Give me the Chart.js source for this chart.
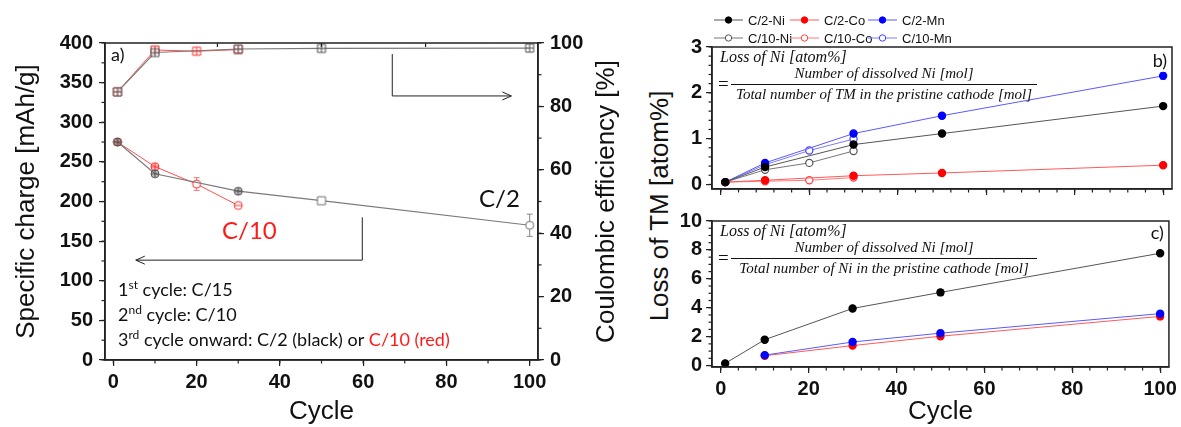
<!DOCTYPE html>
<html>
<head>
<meta charset="utf-8">
<script src="https://cdn.jsdelivr.net/npm/chart.js@4.4.0/dist/chart.umd.min.js"></script>
<style>
    html, body { margin: 0; padding: 0; background: #fff; }
    #wrap { position: relative; width: 1181px; height: 427px; overflow: hidden; }
    canvas { position: absolute; }
    #chartA { left: 0; top: 0; }
    #chartB { left: 680px; top: 0; }
    #chartC { left: 680px; top: 205px; }
    #tmTitle {
        position: absolute; left: 659px; top: 206px;
        font: 26px "Liberation Sans", Arial, sans-serif; line-height: 30px;
        color: #111; white-space: nowrap;
        transform: translate(-50%, -50%) rotate(-90deg);
    }
</style>
</head>
<body>
<div id="wrap">
    <canvas id="chartA" width="640" height="427"></canvas>
    <canvas id="chartB" width="501" height="205"></canvas>
    <canvas id="chartC" width="501" height="222"></canvas>
    <div id="tmTitle">Loss of TM [atom%]</div>
</div>
<script>
// ---- panel a: specific charge / coulombic efficiency ----
const cyclesC2 = [1, 10, 30, 50, 100];
const cyclesC10 = [1, 10, 20, 30];
const chargeC2 = [275, 235, 213, 201, 170];
const chargeC2Err = [0, 0, 0, 0, 14];
const chargeC10 = [275, 244, 222, 195];
const chargeC10Err = [0, 0, 8, 0];
const ceC2 = [84.6, 97.0, 98.1, 98.3, 98.4];
const ceC10 = [84.6, 97.8, 97.4, 97.9];
const aXTicks = [0, 20, 40, 60, 80, 100];
const aYTicks = [0, 50, 100, 150, 200, 250, 300, 350, 400];
const aY1Ticks = [0, 20, 40, 60, 80, 100];

// ---- panel b: loss of TM, normalised to all TM ----
const lossTmNiC2 = [0.05, 0.38, 0.87, 1.11, 1.71];
const lossTmCoC2 = [0.05, 0.09, 0.19, 0.25, 0.42];
const lossTmMnC2 = [0.05, 0.47, 1.11, 1.50, 2.37];
const lossTmNiC10 = [0.05, 0.32, 0.47, 0.73];
const lossTmCoC10 = [0.05, 0.07, 0.09, 0.15];
const lossTmMnC10 = [0.05, 0.43, 0.74, 0.99];
const lossTmMnC2Err = [0, 0, 0, 0, 0.07];
const bYTicks = [0, 1, 2, 3];

// ---- panel c: loss of TM, normalised to Ni ----
const cyclesC2Late = [10, 30, 50, 100];
const lossNiNiC2 = [0.15, 1.79, 3.95, 5.06, 7.77];
const lossNiNiC2Err = [0, 0, 0, 0.2, 0.1];
const lossNiCoC2 = [0.68, 1.38, 2.03, 3.40];
const lossNiMnC2 = [0.72, 1.63, 2.24, 3.59];
const cYTicks = [0, 2, 4, 6, 8, 10];
const bcXTicks = [0, 20, 40, 60, 80, 100];

const sans = 'Liberation Sans, Arial, sans-serif';
const tickFont = {family: sans, size: 20, weight: 'bold'};
const titleFont = {family: sans, size: 26};

function pts(xs, ys) {
    return xs.map((x, i) => ({x: x, y: ys[i]}));
}

function setTicks(list) {
    return scale => {
        scale.ticks = list.map(v => ({value: v}));
    };
}

function axis(extra) {
    const a = {
        type: 'linear',
        border: {display: true, color: '#222', width: 1.5},
        grid: {drawOnChartArea: false, drawTicks: true, tickLength: 6, color: '#222', lineWidth: 1.2},
        ticks: {font: tickFont, color: '#111', padding: 5, maxRotation: 0, autoSkip: false}
    };
    Object.keys(extra).forEach(k => {
        a[k] = (typeof extra[k] === 'object' && a[k]) ? Object.assign({}, a[k], extra[k]) : extra[k];
    });
    return a;
}

function marker(shape, stroke, fill, cross, bar) {
    const s = 12;
    const c = document.createElement('canvas');
    c.width = c.height = s;
    const g = c.getContext('2d');
    const m = s / 2, r = 4;
    g.lineWidth = 1;
    g.strokeStyle = stroke;
    g.fillStyle = fill;
    g.beginPath();
    if (shape === 'circle') {
        g.arc(m, m, r, 0, Math.PI * 2);
    } else {
        g.rect(m - r, m - r, 2 * r, 2 * r);
    }
    g.fill();
    g.stroke();
    g.beginPath();
    if (cross || bar) {
        g.moveTo(m - r, m);
        g.lineTo(m + r, m);
    }
    if (cross) {
        g.moveTo(m, m - r);
        g.lineTo(m, m + r);
    }
    g.stroke();
    return c;
}

const greyStroke = '#505050', greyFill = 'rgba(110,110,110,0.45)';
const redStroke = '#ff3030', redFill = 'rgba(255,110,110,0.35)';
const mGreyCircle = marker('circle', greyStroke, greyFill, true);
const mGreyOpen = marker('circle', '#707070', '#fff', false);
const mGreySquare = marker('square', greyStroke, 'rgba(255,255,255,0.6)', true);
const mGreySquareOpen = marker('square', '#707070', '#fff', false);
const mRedCircle = marker('circle', redStroke, redFill, true);
const mRedOpen = marker('circle', redStroke, '#fff', false);
const mRedBar = marker('circle', redStroke, '#fff', false, true);
const mRedSquare = marker('square', redStroke, 'rgba(255,255,255,0.6)', true);

const frame = {
    id: 'frame',
    afterDraw(chart) {
        const {ctx, chartArea: a} = chart;
        ctx.save();
        ctx.strokeStyle = '#222';
        ctx.lineWidth = 1.5;
        ctx.strokeRect(a.left, a.top, a.right - a.left, a.bottom - a.top);
        ctx.restore();
    }
};

const minorTicks = {
    id: 'minorTicks',
    afterDraw(chart, args, opts) {
        const ctx = chart.ctx;
        ctx.save();
        ctx.strokeStyle = '#222';
        ctx.lineWidth = 1.2;
        Object.keys(opts.steps || {}).forEach(id => {
            const s = chart.scales[id];
            const step = opts.steps[id];
            const n0 = Math.ceil(s.min / step - 1e-9), n1 = Math.floor(s.max / step + 1e-9);
            for (let n = n0; n <= n1; n++) {
                const p = s.getPixelForValue(n * step);
                ctx.beginPath();
                if (s.isHorizontal()) {
                    ctx.moveTo(p, s.top);
                    ctx.lineTo(p, s.top + 3.5);
                } else if (s.position === 'left') {
                    ctx.moveTo(s.right, p);
                    ctx.lineTo(s.right - 3.5, p);
                } else {
                    ctx.moveTo(s.left, p);
                    ctx.lineTo(s.left + 3.5, p);
                }
                ctx.stroke();
            }
        });
        (opts.top || []).forEach(v => {
            const p = chart.scales.x.getPixelForValue(v);
            ctx.beginPath();
            ctx.moveTo(p, chart.chartArea.top);
            ctx.lineTo(p, chart.chartArea.top + 4);
            ctx.stroke();
        });
        ctx.restore();
    }
};

const errorBars = {
    id: 'errorBars',
    beforeDatasetsDraw(chart) {
        const ctx = chart.ctx;
        ctx.save();
        chart.data.datasets.forEach((ds, i) => {
            if (!ds.errors) {
                return;
            }
            const meta = chart.getDatasetMeta(i);
            const ys = chart.scales[meta.yAxisID];
            ctx.strokeStyle = ds.errorColor || ds.borderColor;
            ctx.lineWidth = 1;
            ds.errors.forEach((e, j) => {
                if (!e) {
                    return;
                }
                const x = meta.data[j].x;
                const y0 = ys.getPixelForValue(ds.data[j].y - e);
                const y1 = ys.getPixelForValue(ds.data[j].y + e);
                ctx.beginPath();
                ctx.moveTo(x, y0);
                ctx.lineTo(x, y1);
                ctx.moveTo(x - 3, y0);
                ctx.lineTo(x + 3, y0);
                ctx.moveTo(x - 3, y1);
                ctx.lineTo(x + 3, y1);
                ctx.stroke();
            });
        });
        ctx.restore();
    }
};

function arrow(ctx, path, xs, ys) {
    const p = path.map(v => [xs.getPixelForValue(v[0]), ys.getPixelForValue(v[1])]);
    ctx.beginPath();
    ctx.moveTo(p[0][0], p[0][1]);
    p.slice(1).forEach(q => ctx.lineTo(q[0], q[1]));
    ctx.stroke();
    const [tx, ty] = p[p.length - 1];
    const dir = Math.sign(tx - p[p.length - 2][0]);
    ctx.beginPath();
    ctx.moveTo(tx - dir * 9, ty - 4);
    ctx.lineTo(tx, ty);
    ctx.lineTo(tx - dir * 9, ty + 4);
    ctx.stroke();
}

function richLine(ctx, x, y, parts) {
    parts.forEach(part => {
        const [text, sup, color] = part;
        ctx.font = sup ? '12px Lato' : '18px Lato';
        ctx.fillStyle = color || '#111';
        ctx.fillText(text, x, sup ? y - 7 : y);
        x += ctx.measureText(text).width;
    });
}

const annotA = {
    id: 'annotA',
    afterDraw(chart) {
        const {ctx, chartArea: a, scales} = chart;
        ctx.save();
        ctx.textBaseline = 'alphabetic';
        ctx.textAlign = 'left';
        ctx.fillStyle = '#111';
        ctx.font = '18px Lato';
        ctx.fillText('a)', a.left + 6, a.top + 18);
        ctx.font = '24px Lato';
        ctx.fillText('C/2', 479, 207);
        ctx.fillStyle = '#ff1a1a';
        ctx.fillText('C/10', 222, 239);
        ctx.strokeStyle = '#222';
        ctx.lineWidth = 1;
        arrow(ctx, [[67, 96.5], [67, 83.3], [95.6, 83.3]], scales.x, scales.y1);
        arrow(ctx, [[59.8, 180], [59.8, 126], [5.4, 126]], scales.x, scales.y);
        richLine(ctx, 118, 296, [['1'], ['st', 1], [' cycle: C/15']]);
        richLine(ctx, 118, 321, [['2'], ['nd', 1], [' cycle: C/10']]);
        richLine(ctx, 118, 346, [['3'], ['rd', 1], [' cycle onward: C/2 (black) or '], ['C/10 (red)', 0, '#ff1a1a']]);

        // right axis title, reading bottom to top
        ctx.save();
        ctx.translate(607, (a.top + a.bottom) / 2);
        ctx.rotate(-Math.PI / 2);
        ctx.font = '26px ' + sans;
        ctx.fillStyle = '#111';
        ctx.textAlign = 'center';
        ctx.textBaseline = 'middle';
        ctx.fillText('Coulombic efficiency [%]', 0, 0);
        ctx.restore();
        ctx.restore();
    }
};

function formula(ctx, a, denominator, label, labelY) {
    ctx.save();
    ctx.fillStyle = '#111';
    ctx.textBaseline = 'alphabetic';
    ctx.font = 'italic 16px "Liberation Serif", serif';
    ctx.textAlign = 'left';
    ctx.fillText('Loss of Ni [atom%]', a.left + 8, a.top + 15);
    ctx.font = '19px "Liberation Serif", serif';
    ctx.fillText('=', a.left + 6, a.top + 43);
    const x0 = a.left + 19, x1 = a.left + 325;
    ctx.strokeStyle = '#111';
    ctx.lineWidth = 1.2;
    ctx.beginPath();
    ctx.moveTo(x0, a.top + 37.5);
    ctx.lineTo(x1, a.top + 37.5);
    ctx.stroke();
    ctx.font = 'italic 15px "Liberation Serif", serif';
    ctx.textAlign = 'center';
    ctx.fillText('Number of dissolved Ni [mol]', (x0 + x1) / 2, a.top + 31);
    ctx.fillText(denominator, (x0 + x1) / 2, a.top + 52);
    ctx.font = '18px Lato';
    ctx.textAlign = 'right';
    ctx.fillText(label, a.right - 5, a.top + labelY);
    ctx.restore();
}

const legendB = {
    id: 'legendB',
    afterDraw(chart) {
        const ctx = chart.ctx;
        const cols = [34, 110, 188], rows = [20, 38];
        ctx.save();
        ctx.font = '13px ' + sans;
        ctx.textBaseline = 'middle';
        ctx.textAlign = 'left';
        chart.data.datasets.forEach((ds, i) => {
            const x = cols[i % 3], y = rows[Math.floor(i / 3)];
            ctx.strokeStyle = ds.borderColor;
            ctx.lineWidth = 1;
            ctx.beginPath();
            ctx.moveTo(x, y);
            ctx.lineTo(x + 29, y);
            ctx.stroke();
            ctx.beginPath();
            ctx.arc(x + 14.5, y, 3.2, 0, Math.PI * 2);
            ctx.fillStyle = ds.pointBackgroundColor;
            ctx.fill();
            ctx.strokeStyle = ds.pointBorderColor;
            ctx.stroke();
            ctx.fillStyle = '#111';
            ctx.fillText(ds.label, x + 34, y + 1);
        });
        ctx.restore();
    }
};

const annotB = {
    id: 'annotB',
    afterDraw(chart) {
        formula(chart.ctx, chart.chartArea, 'Total number of TM in the pristine cathode [mol]', 'b)', 20);
    }
};

const annotC = {
    id: 'annotC',
    afterDraw(chart) {
        formula(chart.ctx, chart.chartArea, 'Total number of Ni in the pristine cathode [mol]', 'c)', 18);
    }
};

function series(label, xs, ys, line, mark, open, extra) {
    return Object.assign({
        label: label,
        data: pts(xs, ys),
        borderColor: line,
        borderWidth: 1,
        pointRadius: 3.6,
        pointBorderWidth: 1.2,
        pointBorderColor: mark,
        pointBackgroundColor: open ? '#fff' : mark,
        clip: false,
        tension: 0
    }, extra || {});
}

document.addEventListener('DOMContentLoaded', () => {
    Chart.defaults.font.family = sans;

    new Chart(document.getElementById('chartA'), {
        type: 'line',
        data: {
            datasets: [
                {
                    label: 'C/2 charge', data: pts(cyclesC2, chargeC2), errors: chargeC2Err, errorColor: '#888',
                    yAxisID: 'y', borderColor: '#7a7a7a', borderWidth: 1.2, clip: false,
                    pointStyle: [mGreyCircle, mGreyCircle, mGreyCircle, mGreySquareOpen, mGreyOpen]
                },
                {
                    label: 'C/10 charge', data: pts(cyclesC10, chargeC10), errors: chargeC10Err, errorColor: '#ff7070',
                    yAxisID: 'y', borderColor: '#ff4d4d', borderWidth: 1, clip: false,
                    pointStyle: [mRedCircle, mRedCircle, mRedOpen, mRedBar]
                },
                {
                    label: 'C/2 CE', data: pts(cyclesC2, ceC2), yAxisID: 'y1',
                    borderColor: '#7a7a7a', borderWidth: 1.2, clip: false, pointStyle: mGreySquare
                },
                {
                    label: 'C/10 CE', data: pts(cyclesC10, ceC10), yAxisID: 'y1',
                    borderColor: '#ff4d4d', borderWidth: 1, clip: false, pointStyle: mRedSquare
                }
            ]
        },
        options: {
            responsive: false,
            animation: false,
            layout: {padding: {top: 43}},
            plugins: {
                legend: {display: false},
                tooltip: {enabled: false},
                minorTicks: {steps: {x: 10, y: 25, y1: 10}, top: [25, 50, 75]}
            },
            scales: {
                x: axis({
                    min: -2, max: 102, afterBuildTicks: setTicks(aXTicks),
                    afterFit: s => { s.height = 67; },
                    ticks: {padding: 4},
                    title: {display: true, text: 'Cycle', font: titleFont, color: '#111', padding: {top: 0, bottom: 0}}
                }),
                y: axis({
                    position: 'left', min: 0, max: 400, afterBuildTicks: setTicks(aYTicks),
                    afterFit: s => { s.width = 105; },
                    ticks: {padding: 6},
                    title: {display: true, text: 'Specific charge [mAh/g]', font: titleFont, color: '#111', padding: {top: 11, bottom: 0}}
                }),
                y1: axis({
                    position: 'right', min: 0, max: 100, afterBuildTicks: setTicks(aY1Ticks),
                    afterFit: s => { s.width = 102; },
                    ticks: {padding: 6}
                })
            }
        },
        plugins: [errorBars, frame, minorTicks, annotA]
    });

    new Chart(document.getElementById('chartB'), {
        type: 'line',
        data: {
            datasets: [
                series('C/2-Ni', cyclesC2, lossTmNiC2, '#555', '#000', false),
                series('C/2-Co', cyclesC2, lossTmCoC2, '#ff5a5a', '#ff0000', false),
                series('C/2-Mn', cyclesC2, lossTmMnC2, '#5a5aff', '#0000ff', false, {errors: lossTmMnC2Err}),
                series('C/10-Ni', cyclesC10, lossTmNiC10, '#777', '#555', true),
                series('C/10-Co', cyclesC10, lossTmCoC10, '#ff7a7a', '#ff4040', true),
                series('C/10-Mn', cyclesC10, lossTmMnC10, '#7a7aff', '#4040ff', true)
            ]
        },
        options: {
            responsive: false,
            animation: false,
            layout: {padding: {top: 47, right: 9}},
            plugins: {
                legend: {display: false},
                tooltip: {enabled: false},
                minorTicks: {steps: {x: 4, y: 0.2}}
            },
            scales: {
                x: axis({
                    min: -2, max: 102, afterBuildTicks: setTicks(bcXTicks),
                    afterFit: s => { s.height = 9; },
                    ticks: {display: false}
                }),
                y: axis({
                    position: 'left', min: -0.1, max: 3, afterBuildTicks: setTicks(bYTicks),
                    afterFit: s => { s.width = 32; },
                    ticks: {padding: 4}
                })
            }
        },
        plugins: [errorBars, frame, minorTicks, legendB, annotB]
    });

    new Chart(document.getElementById('chartC'), {
        type: 'line',
        data: {
            datasets: [
                series('C/2-Ni', cyclesC2, lossNiNiC2, '#555', '#000', false, {errors: lossNiNiC2Err}),
                series('C/2-Mn', cyclesC2Late, lossNiMnC2, '#5a5aff', '#0000ff', false),
                series('C/2-Co', cyclesC2Late, lossNiCoC2, '#ff5a5a', '#ff0000', false)
            ]
        },
        options: {
            responsive: false,
            animation: false,
            layout: {padding: {top: 13, right: 9}},
            plugins: {
                legend: {display: false},
                tooltip: {enabled: false},
                minorTicks: {steps: {x: 4, y: 0.5}}
            },
            scales: {
                x: axis({
                    min: -2, max: 102, afterBuildTicks: setTicks(bcXTicks),
                    afterFit: s => { s.height = 60; },
                    ticks: {padding: 4},
                    title: {display: true, text: 'Cycle', font: titleFont, color: '#111', padding: {top: 0, bottom: 0}}
                }),
                y: axis({
                    position: 'left', min: -0.1, max: 10, afterBuildTicks: setTicks(cYTicks),
                    afterFit: s => { s.width = 32; },
                    ticks: {padding: 4}
                })
            }
        },
        plugins: [errorBars, frame, minorTicks, annotC]
    });
});
</script>
</body>
</html>
